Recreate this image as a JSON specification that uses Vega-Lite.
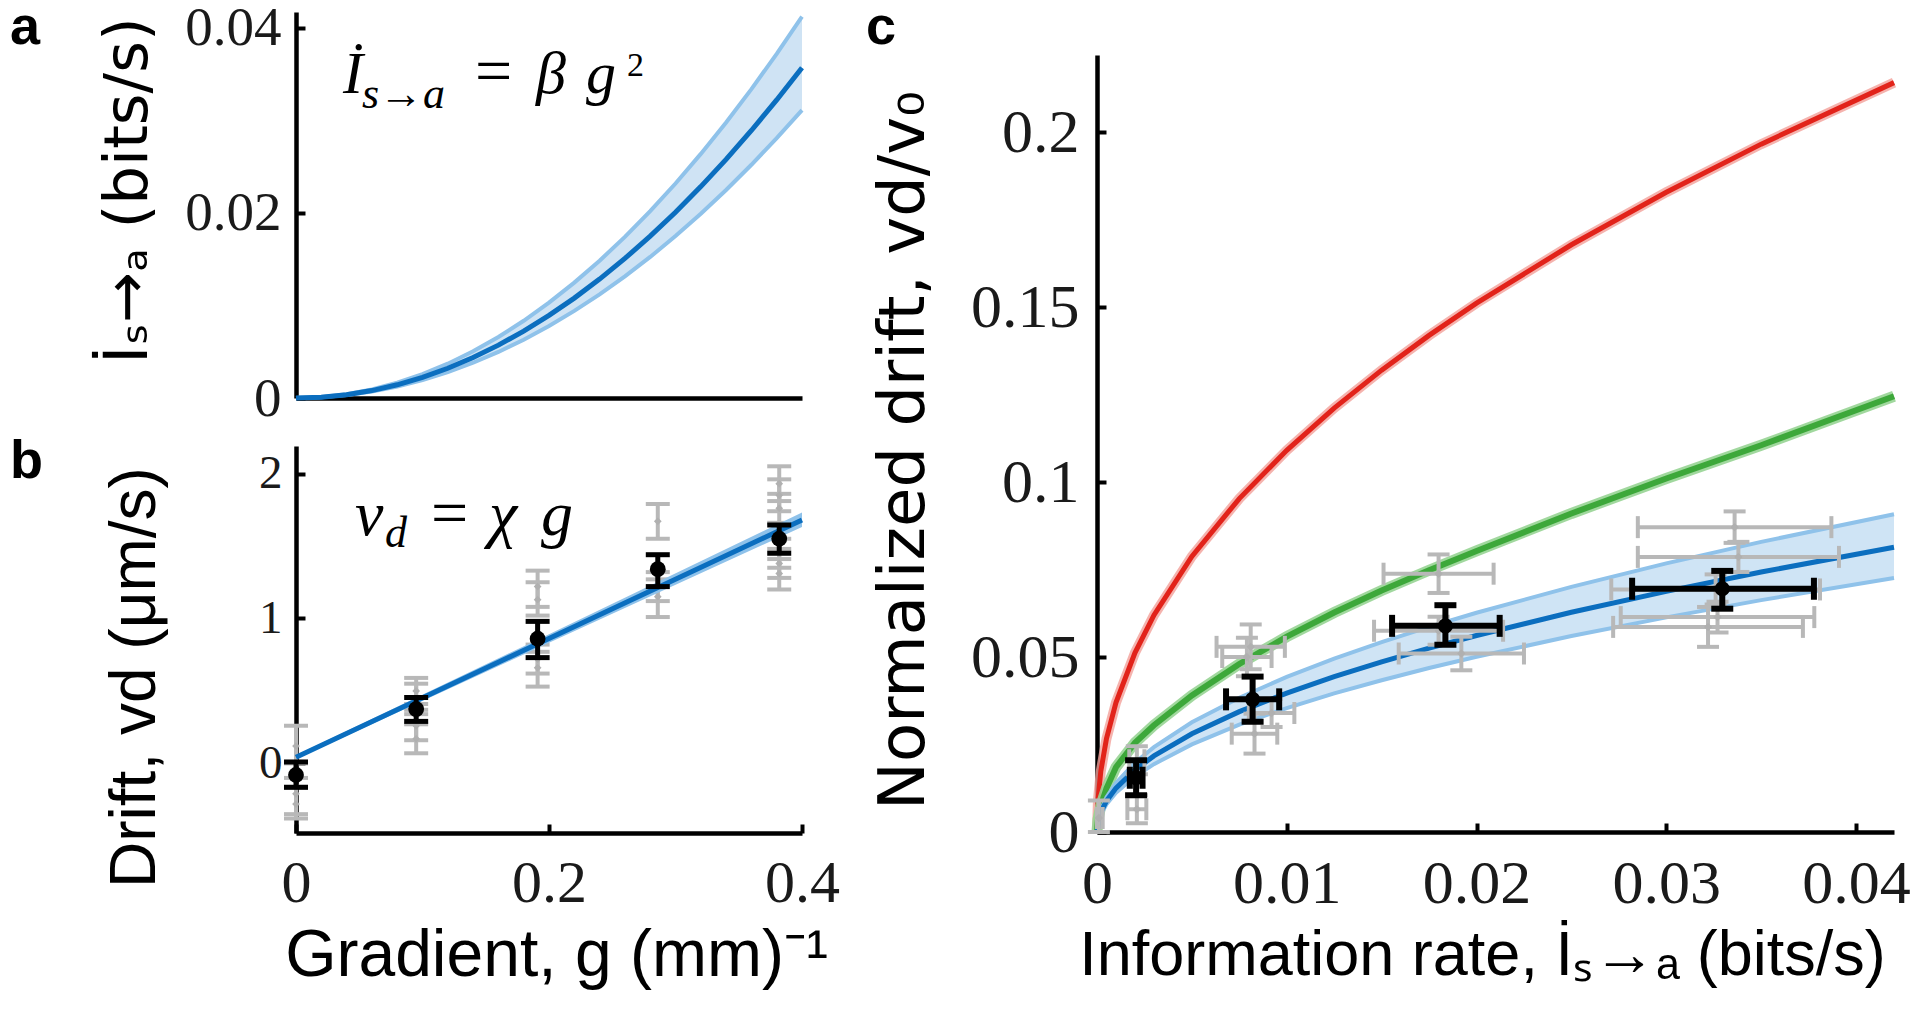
{
  "$schema": "https://vega.github.io/schema/vega-lite/v6.json",
  "background": "white",
  "autosize": {"type": "none"},
  "padding": {"left": 296, "top": 12, "right": 1624, "bottom": 999},
  "bounds": "flush",
  "spacing": 801,
  "config": {
    "view": {"stroke": null},
    "font": "Liberation Sans",
    "axis": {
      "grid": false, "domainColor": "#000", "domainWidth": 4.5, "tickColor": "#000", "tickWidth": 4, "tickSize": -9,
      "labelFont": "Liberation Serif", "labelFontSize": 58, "labelColor": "#1a1a1a", "labelPadding": 25,
      "labelFlush": false, "labelOverlap": false,
      "titleFont": "Liberation Sans", "titleFontWeight": "normal", "titleColor": "#000", "titleFontSize": 60, "titleBaseline": "middle"
    }
  },
  "datasets": {
    "aCurve": [
      {"g": 0, "I": 0, "lo": 0, "hi": 0},
      {"g": 0.02, "I": 0.0000892, "lo": 0.0000778, "hi": 0.000103},
      {"g": 0.04, "I": 0.000357, "lo": 0.000311, "hi": 0.000412},
      {"g": 0.06, "I": 0.000803, "lo": 0.0007, "hi": 0.000927},
      {"g": 0.08, "I": 0.001427, "lo": 0.001244, "hi": 0.001648},
      {"g": 0.1, "I": 0.00223, "lo": 0.001944, "hi": 0.002575},
      {"g": 0.12, "I": 0.003211, "lo": 0.002799, "hi": 0.003708},
      {"g": 0.14, "I": 0.004371, "lo": 0.00381, "hi": 0.005047},
      {"g": 0.16, "I": 0.005709, "lo": 0.004977, "hi": 0.006592},
      {"g": 0.18, "I": 0.007225, "lo": 0.006299, "hi": 0.008343},
      {"g": 0.2, "I": 0.00892, "lo": 0.007776, "hi": 0.0103},
      {"g": 0.22, "I": 0.010793, "lo": 0.009409, "hi": 0.012463},
      {"g": 0.24, "I": 0.012845, "lo": 0.011197, "hi": 0.014832},
      {"g": 0.26, "I": 0.015075, "lo": 0.013141, "hi": 0.017407},
      {"g": 0.28, "I": 0.017483, "lo": 0.015241, "hi": 0.020188},
      {"g": 0.3, "I": 0.02007, "lo": 0.017496, "hi": 0.023175},
      {"g": 0.32, "I": 0.022835, "lo": 0.019907, "hi": 0.026368},
      {"g": 0.34, "I": 0.025779, "lo": 0.022473, "hi": 0.029767},
      {"g": 0.36, "I": 0.028901, "lo": 0.025194, "hi": 0.033372},
      {"g": 0.38, "I": 0.032201, "lo": 0.028071, "hi": 0.037183},
      {"g": 0.4, "I": 0.03568, "lo": 0.031104, "hi": 0.0412}
    ],
    "bFit": [
      {"g": 0, "v": 0.043, "lo": 0.03, "hi": 0.056},
      {"g": 0.2, "v": 0.862, "lo": 0.832, "hi": 0.892},
      {"g": 0.4, "v": 1.68, "lo": 1.632, "hi": 1.732}
    ],
    "bGray": [
      {"g": 0, "v": 0.12, "lo": 0.0, "hi": 0.26},
      {"g": 0, "v": -0.21, "lo": -0.35, "hi": -0.1},
      {"g": 0, "v": -0.28, "lo": -0.38, "hi": -0.16},
      {"g": 0.095, "v": 0.5, "lo": 0.41, "hi": 0.59},
      {"g": 0.095, "v": 0.45, "lo": 0.37, "hi": 0.55},
      {"g": 0.095, "v": 0.17, "lo": 0.07, "hi": 0.27},
      {"g": 0.095, "v": 0.26, "lo": 0.16, "hi": 0.34},
      {"g": 0.191, "v": 1.22, "lo": 1.08, "hi": 1.33},
      {"g": 0.191, "v": 1.13, "lo": 1.02, "hi": 1.25},
      {"g": 0.191, "v": 0.66, "lo": 0.53, "hi": 0.77},
      {"g": 0.191, "v": 0.72, "lo": 0.62, "hi": 0.82},
      {"g": 0.286, "v": 1.67, "lo": 1.55, "hi": 1.79},
      {"g": 0.286, "v": 1.15, "lo": 1.01, "hi": 1.27},
      {"g": 0.286, "v": 1.22, "lo": 1.12, "hi": 1.32},
      {"g": 0.382, "v": 1.93, "lo": 1.81, "hi": 2.05},
      {"g": 0.382, "v": 1.85, "lo": 1.74, "hi": 1.96},
      {"g": 0.382, "v": 1.76, "lo": 1.66, "hi": 1.86},
      {"g": 0.382, "v": 1.45, "lo": 1.35, "hi": 1.55},
      {"g": 0.382, "v": 1.31, "lo": 1.2, "hi": 1.41},
      {"g": 0.382, "v": 1.38, "lo": 1.28, "hi": 1.48}
    ],
    "bBlack": [
      {"g": 0, "v": -0.08, "lo": -0.165, "hi": 0.01},
      {"g": 0.095, "v": 0.375, "lo": 0.29, "hi": 0.455},
      {"g": 0.191, "v": 0.86, "lo": 0.73, "hi": 0.98},
      {"g": 0.286, "v": 1.34, "lo": 1.22, "hi": 1.44},
      {"g": 0.382, "v": 1.55, "lo": 1.45, "hi": 1.645}
    ],
    "cRed": [
      {"I": 0, "v": 0}, {"I": 0.00005, "v": 0.00904}, {"I": 0.0002, "v": 0.01735}, {"I": 0.0005, "v": 0.02668},
      {"I": 0.001, "v": 0.03697}, {"I": 0.002, "v": 0.05121}, {"I": 0.003, "v": 0.06194}, {"I": 0.005, "v": 0.07875},
      {"I": 0.0075, "v": 0.09527}, {"I": 0.01, "v": 0.10906}, {"I": 0.0125, "v": 0.12112}, {"I": 0.015, "v": 0.13196},
      {"I": 0.0175, "v": 0.14189}, {"I": 0.02, "v": 0.15111}, {"I": 0.025, "v": 0.16778}, {"I": 0.03, "v": 0.18279},
      {"I": 0.035, "v": 0.19653}, {"I": 0.042, "v": 0.21411}
    ],
    "cGreen": [
      {"I": 0, "v": 0}, {"I": 0.00005, "v": 0.0035}, {"I": 0.0002, "v": 0.0075}, {"I": 0.0005, "v": 0.0125},
      {"I": 0.001, "v": 0.0185}, {"I": 0.002, "v": 0.0255}, {"I": 0.003, "v": 0.0305}, {"I": 0.005, "v": 0.0390},
      {"I": 0.0075, "v": 0.0480}, {"I": 0.01, "v": 0.0558}, {"I": 0.0125, "v": 0.0627}, {"I": 0.015, "v": 0.0690},
      {"I": 0.0175, "v": 0.0748}, {"I": 0.02, "v": 0.0803}, {"I": 0.025, "v": 0.0910}, {"I": 0.03, "v": 0.1010},
      {"I": 0.035, "v": 0.1105}, {"I": 0.042, "v": 0.1245}
    ],
    "cBlue": [
      {"I": 0, "v": 0, "lo": 0, "hi": 0},
      {"I": 0.0002, "v": 0.00561, "lo": 0.005, "hi": 0.00626},
      {"I": 0.0005, "v": 0.00888, "lo": 0.00792, "hi": 0.00991},
      {"I": 0.001, "v": 0.01255, "lo": 0.0112, "hi": 0.01401},
      {"I": 0.002, "v": 0.01775, "lo": 0.01583, "hi": 0.01981},
      {"I": 0.003, "v": 0.02174, "lo": 0.01939, "hi": 0.02426},
      {"I": 0.005, "v": 0.02807, "lo": 0.02504, "hi": 0.03133},
      {"I": 0.0075, "v": 0.03438, "lo": 0.03067, "hi": 0.03837},
      {"I": 0.01, "v": 0.0397, "lo": 0.03541, "hi": 0.04431},
      {"I": 0.0125, "v": 0.04439, "lo": 0.0396, "hi": 0.04954},
      {"I": 0.015, "v": 0.04862, "lo": 0.04337, "hi": 0.05426},
      {"I": 0.0175, "v": 0.05252, "lo": 0.04685, "hi": 0.05861},
      {"I": 0.02, "v": 0.05614, "lo": 0.05008, "hi": 0.06265},
      {"I": 0.025, "v": 0.06277, "lo": 0.05599, "hi": 0.07005},
      {"I": 0.03, "v": 0.06876, "lo": 0.06133, "hi": 0.07674},
      {"I": 0.035, "v": 0.07427, "lo": 0.06625, "hi": 0.08289},
      {"I": 0.042, "v": 0.08136, "lo": 0.07257, "hi": 0.0908}
    ],
    "cGray": [
      {"I": 0.0021, "v": 0.0065, "xlo": 0.0016, "xhi": 0.0026, "ylo": 0.0025, "yhi": 0.0105},
      {"I": 0.0021, "v": 0.0205, "xlo": 0.0017, "xhi": 0.0025, "ylo": 0.0165, "yhi": 0.0245},
      {"I": 0.0001, "v": 0.004, "xlo": 0.0, "xhi": 0.0003, "ylo": 0.0, "yhi": 0.009},
      {"I": 0.0081, "v": 0.0529, "xlo": 0.0063, "xhi": 0.0099, "ylo": 0.0465, "yhi": 0.0593},
      {"I": 0.0079, "v": 0.05, "xlo": 0.0066, "xhi": 0.0092, "ylo": 0.0445, "yhi": 0.0555},
      {"I": 0.0083, "v": 0.0281, "xlo": 0.0071, "xhi": 0.0095, "ylo": 0.0224, "yhi": 0.0338},
      {"I": 0.0092, "v": 0.034, "xlo": 0.008, "xhi": 0.0104, "ylo": 0.03, "yhi": 0.038},
      {"I": 0.018, "v": 0.0738, "xlo": 0.0151, "xhi": 0.0209, "ylo": 0.0683, "yhi": 0.0793},
      {"I": 0.0192, "v": 0.051, "xlo": 0.0159, "xhi": 0.0225, "ylo": 0.0462, "yhi": 0.0558},
      {"I": 0.018, "v": 0.0575, "xlo": 0.0146, "xhi": 0.0214, "ylo": 0.0535, "yhi": 0.0615},
      {"I": 0.0336, "v": 0.0871, "xlo": 0.0285, "xhi": 0.0387, "ylo": 0.0826, "yhi": 0.0916},
      {"I": 0.0338, "v": 0.0786, "xlo": 0.0285, "xhi": 0.0391, "ylo": 0.0743, "yhi": 0.0829},
      {"I": 0.0326, "v": 0.0693, "xlo": 0.0271, "xhi": 0.0381, "ylo": 0.065, "yhi": 0.0736},
      {"I": 0.0327, "v": 0.0614, "xlo": 0.0276, "xhi": 0.0378, "ylo": 0.057, "yhi": 0.0658},
      {"I": 0.0322, "v": 0.0586, "xlo": 0.0272, "xhi": 0.0372, "ylo": 0.0529, "yhi": 0.0643}
    ],
    "cBlack": [
      {"I": 0.00206, "v": 0.0155, "xlo": 0.00173, "xhi": 0.0024, "ylo": 0.0105, "yhi": 0.0205},
      {"I": 0.0082, "v": 0.0379, "xlo": 0.0068, "xhi": 0.0096, "ylo": 0.0315, "yhi": 0.0444},
      {"I": 0.01836, "v": 0.0589, "xlo": 0.01555, "xhi": 0.02122, "ylo": 0.0535, "yhi": 0.0648},
      {"I": 0.03295, "v": 0.0695, "xlo": 0.0282, "xhi": 0.03778, "ylo": 0.0638, "yhi": 0.0746}
    ]
  },
  "hconcat": [
    {
      "bounds": "flush",
      "spacing": 48,
      "vconcat": [
        {
          "width": 506, "height": 386,
          "layer": [
            {"data": {"name": "aCurve"}, "mark": {"type": "area", "color": "#cfe3f4", "opacity": 1},
             "encoding": {
               "x": {"field": "g", "type": "quantitative", "scale": {"domain": [0, 0.4], "nice": false}, "axis": {"labels": false, "ticks": false, "title": null}},
               "y": {"field": "lo", "type": "quantitative", "scale": {"domain": [0, 0.0417], "nice": false}, "axis": {"values": [0, 0.02, 0.04], "format": ".2~f", "labelFontSize": 55, "labelPadding": 24, "title": "İₛ→ₐ (bits/s)", "titleFont": "DejaVu Sans", "titleX": -168, "titleY": 178, "titleFontSize": 61}},
               "y2": {"field": "hi"}}},
            {"data": {"name": "aCurve"}, "mark": {"type": "line", "color": "#8fc2ea", "strokeWidth": 4},
             "encoding": {"x": {"field": "g", "type": "quantitative"}, "y": {"field": "hi", "type": "quantitative"}}},
            {"data": {"name": "aCurve"}, "mark": {"type": "line", "color": "#8fc2ea", "strokeWidth": 4},
             "encoding": {"x": {"field": "g", "type": "quantitative"}, "y": {"field": "lo", "type": "quantitative"}}},
            {"data": {"name": "aCurve"}, "mark": {"type": "line", "color": "#0b6ebf", "strokeWidth": 5},
             "encoding": {"x": {"field": "g", "type": "quantitative"}, "y": {"field": "I", "type": "quantitative"}}},
            {"data": {"values": [{}]}, "mark": {"type": "text", "font": "Liberation Sans", "fontWeight": "bold", "fontSize": 54, "align": "left", "baseline": "alphabetic", "color": "#000", "dx": -286, "dy": 32},
             "encoding": {"x": {"datum": 0}, "y": {"datum": 0.0417}, "text": {"value": "a"}}},
            {"data": {"values": [{}]}, "mark": {"type": "text", "font": "Liberation Serif", "fontStyle": "italic", "fontSize": 60, "align": "left", "baseline": "alphabetic", "color": "#000"},
             "encoding": {"x": {"datum": 0.03715}, "y": {"datum": 0.03295}, "text": {"value": "İ"}}},
            {"data": {"values": [{}]}, "mark": {"type": "text", "font": "Liberation Serif", "fontStyle": "italic", "fontSize": 44, "align": "left", "baseline": "alphabetic", "color": "#000", "dx": 19, "dy": 15},
             "encoding": {"x": {"datum": 0.03715}, "y": {"datum": 0.03295}, "text": {"value": "s→a"}}},
            {"data": {"values": [{}]}, "mark": {"type": "text", "font": "Liberation Serif", "fontSize": 66, "align": "left", "baseline": "alphabetic", "color": "#000", "dx": 132},
             "encoding": {"x": {"datum": 0.03715}, "y": {"datum": 0.03295}, "text": {"value": "="}}},
            {"data": {"values": [{}]}, "mark": {"type": "text", "font": "Liberation Serif", "fontStyle": "italic", "fontSize": 60, "align": "left", "baseline": "alphabetic", "color": "#000", "dx": 193},
             "encoding": {"x": {"datum": 0.03715}, "y": {"datum": 0.03295}, "text": {"value": "β"}}},
            {"data": {"values": [{}]}, "mark": {"type": "text", "font": "Liberation Serif", "fontStyle": "italic", "fontSize": 60, "align": "left", "baseline": "alphabetic", "color": "#000", "dx": 243},
             "encoding": {"x": {"datum": 0.03715}, "y": {"datum": 0.03295}, "text": {"value": "g"}}},
            {"data": {"values": [{}]}, "mark": {"type": "text", "font": "Liberation Serif", "fontSize": 34, "align": "left", "baseline": "alphabetic", "color": "#000", "dx": 284, "dy": -17},
             "encoding": {"x": {"datum": 0.03715}, "y": {"datum": 0.03295}, "text": {"value": "2"}}}
          ]
        },
        {
          "width": 506, "height": 387,
          "layer": [
            {"data": {"name": "bGray"}, "mark": {"type": "rule", "color": "#b8b8b8", "strokeWidth": 4, "opacity": 1},
             "encoding": {
               "x": {"field": "g", "type": "quantitative", "scale": {"domain": [0, 0.4], "nice": false}, "axis": {"values": [0, 0.2, 0.4], "format": ".1~f", "labelFontSize": 60, "labelPadding": 30, "title": "Gradient, g (mm)⁻¹", "titleX": 260, "titleY": 122, "titleFontSize": 66}},
               "y": {"field": "lo", "type": "quantitative", "scale": {"domain": [-0.48, 2.19], "nice": false}, "axis": {"values": [0, 1, 2], "format": "d", "labelFontSize": 47, "labelPadding": 23, "title": "Drift,  vd  (μm/s)", "titleX": -161, "titleY": 231, "titleFontSize": 64}},
               "y2": {"field": "hi"}}},
            {"data": {"name": "bGray"}, "mark": {"type": "tick", "orient": "horizontal", "color": "#b8b8b8", "size": 24, "thickness": 4, "opacity": 1},
             "encoding": {"x": {"field": "g", "type": "quantitative"}, "y": {"field": "lo", "type": "quantitative"}}},
            {"data": {"name": "bGray"}, "mark": {"type": "tick", "orient": "horizontal", "color": "#b8b8b8", "size": 24, "thickness": 4, "opacity": 1},
             "encoding": {"x": {"field": "g", "type": "quantitative"}, "y": {"field": "hi", "type": "quantitative"}}},
            {"data": {"name": "bGray"}, "mark": {"type": "point", "shape": "diamond", "filled": true, "color": "#b0b0b0", "size": 60, "opacity": 1},
             "encoding": {"x": {"field": "g", "type": "quantitative"}, "y": {"field": "v", "type": "quantitative"}}},
            {"data": {"name": "bFit"}, "mark": {"type": "area", "color": "#8fc2ea", "opacity": 1},
             "encoding": {"x": {"field": "g", "type": "quantitative"}, "y": {"field": "lo", "type": "quantitative"}, "y2": {"field": "hi"}}},
            {"data": {"name": "bFit"}, "mark": {"type": "line", "color": "#0b6ebf", "strokeWidth": 5},
             "encoding": {"x": {"field": "g", "type": "quantitative"}, "y": {"field": "v", "type": "quantitative"}}},
            {"data": {"name": "bBlack"}, "mark": {"type": "rule", "color": "#000", "strokeWidth": 5, "opacity": 1},
             "encoding": {"x": {"field": "g", "type": "quantitative"}, "y": {"field": "lo", "type": "quantitative"}, "y2": {"field": "hi"}}},
            {"data": {"name": "bBlack"}, "mark": {"type": "tick", "orient": "horizontal", "color": "#000", "size": 24, "thickness": 5, "opacity": 1},
             "encoding": {"x": {"field": "g", "type": "quantitative"}, "y": {"field": "lo", "type": "quantitative"}}},
            {"data": {"name": "bBlack"}, "mark": {"type": "tick", "orient": "horizontal", "color": "#000", "size": 24, "thickness": 5, "opacity": 1},
             "encoding": {"x": {"field": "g", "type": "quantitative"}, "y": {"field": "hi", "type": "quantitative"}}},
            {"data": {"name": "bBlack"}, "mark": {"type": "circle", "color": "#000", "size": 250, "opacity": 1},
             "encoding": {"x": {"field": "g", "type": "quantitative"}, "y": {"field": "v", "type": "quantitative"}}},
            {"data": {"values": [{}]}, "mark": {"type": "text", "font": "Liberation Sans", "fontWeight": "bold", "fontSize": 54, "align": "left", "baseline": "alphabetic", "color": "#000", "dx": -286, "dy": 32},
             "encoding": {"x": {"datum": 0}, "y": {"datum": 2.19}, "text": {"value": "b"}}},
            {"data": {"values": [{}]}, "mark": {"type": "text", "font": "Liberation Serif", "fontStyle": "italic", "fontSize": 64, "align": "left", "baseline": "alphabetic", "color": "#000"},
             "encoding": {"x": {"datum": 0.0466}, "y": {"datum": 1.576}, "text": {"value": "v"}}},
            {"data": {"values": [{}]}, "mark": {"type": "text", "font": "Liberation Serif", "fontStyle": "italic", "fontSize": 44, "align": "left", "baseline": "alphabetic", "color": "#000", "dx": 30, "dy": 12},
             "encoding": {"x": {"datum": 0.0466}, "y": {"datum": 1.576}, "text": {"value": "d"}}},
            {"data": {"values": [{}]}, "mark": {"type": "text", "font": "Liberation Serif", "fontSize": 66, "align": "left", "baseline": "alphabetic", "color": "#000", "dx": 76},
             "encoding": {"x": {"datum": 0.0466}, "y": {"datum": 1.576}, "text": {"value": "="}}},
            {"data": {"values": [{}]}, "mark": {"type": "text", "font": "Liberation Serif", "fontStyle": "italic", "fontSize": 64, "align": "left", "baseline": "alphabetic", "color": "#000", "dx": 134},
             "encoding": {"x": {"datum": 0.0466}, "y": {"datum": 1.576}, "text": {"value": "χ"}}},
            {"data": {"values": [{}]}, "mark": {"type": "text", "font": "Liberation Serif", "fontStyle": "italic", "fontSize": 64, "align": "left", "baseline": "alphabetic", "color": "#000", "dx": 186},
             "encoding": {"x": {"datum": 0.0466}, "y": {"datum": 1.576}, "text": {"value": "g"}}}
          ]
        }
      ]
    },
    {
      "bounds": "flush",
      "spacing": 42,
      "vconcat": [
        {"width": 797, "height": 1, "data": {"values": [{}]}, "mark": {"type": "point", "opacity": 0}},
        {
          "width": 797, "height": 777,
          "layer": [
            {"data": {"name": "cRed"}, "mark": {"type": "line", "color": "#f2a09a", "strokeWidth": 10, "opacity": 0.8},
             "encoding": {
               "x": {"field": "I", "type": "quantitative", "scale": {"domain": [0, 0.042], "nice": false}, "axis": {"values": [0, 0.01, 0.02, 0.03, 0.04], "format": ".2~f", "labelFontSize": 62, "labelPadding": 30, "title": "Information rate, İₛ→ₐ (bits/s)", "titleX": 385, "titleY": 123, "titleFontSize": 63}},
               "y": {"field": "v", "type": "quantitative", "scale": {"domain": [0, 0.222], "nice": false}, "axis": {"values": [0, 0.05, 0.1, 0.15, 0.2], "format": ".2~f", "labelFontSize": 62, "labelPadding": 27, "title": "Normalized drift, vd/v₀", "titleX": -193, "titleY": 395, "titleFont": "DejaVu Sans", "titleFontSize": 64}}}},
            {"data": {"name": "cRed"}, "mark": {"type": "line", "color": "#e2231a", "strokeWidth": 5},
             "encoding": {"x": {"field": "I", "type": "quantitative"}, "y": {"field": "v", "type": "quantitative"}}},
            {"data": {"name": "cGreen"}, "mark": {"type": "line", "color": "#97d494", "strokeWidth": 11, "opacity": 0.9},
             "encoding": {"x": {"field": "I", "type": "quantitative"}, "y": {"field": "v", "type": "quantitative"}}},
            {"data": {"name": "cGreen"}, "mark": {"type": "line", "color": "#3da83a", "strokeWidth": 6},
             "encoding": {"x": {"field": "I", "type": "quantitative"}, "y": {"field": "v", "type": "quantitative"}}},
            {"data": {"name": "cBlue"}, "mark": {"type": "area", "color": "#cfe4f5", "opacity": 1},
             "encoding": {"x": {"field": "I", "type": "quantitative"}, "y": {"field": "lo", "type": "quantitative"}, "y2": {"field": "hi"}}},
            {"data": {"name": "cBlue"}, "mark": {"type": "line", "color": "#8fc2ea", "strokeWidth": 4},
             "encoding": {"x": {"field": "I", "type": "quantitative"}, "y": {"field": "hi", "type": "quantitative"}}},
            {"data": {"name": "cBlue"}, "mark": {"type": "line", "color": "#8fc2ea", "strokeWidth": 4},
             "encoding": {"x": {"field": "I", "type": "quantitative"}, "y": {"field": "lo", "type": "quantitative"}}},
            {"data": {"name": "cBlue"}, "mark": {"type": "line", "color": "#0b6ebf", "strokeWidth": 5},
             "encoding": {"x": {"field": "I", "type": "quantitative"}, "y": {"field": "v", "type": "quantitative"}}},
            {"data": {"name": "cGray"}, "mark": {"type": "rule", "color": "#b8b8b8", "strokeWidth": 4, "opacity": 1},
             "encoding": {"x": {"field": "xlo", "type": "quantitative"}, "x2": {"field": "xhi"}, "y": {"field": "v", "type": "quantitative"}}},
            {"data": {"name": "cGray"}, "mark": {"type": "rule", "color": "#b8b8b8", "strokeWidth": 4, "opacity": 1},
             "encoding": {"x": {"field": "I", "type": "quantitative"}, "y": {"field": "ylo", "type": "quantitative"}, "y2": {"field": "yhi"}}},
            {"data": {"name": "cGray"}, "mark": {"type": "tick", "orient": "vertical", "color": "#b8b8b8", "size": 22, "thickness": 4, "opacity": 1},
             "encoding": {"x": {"field": "xlo", "type": "quantitative"}, "y": {"field": "v", "type": "quantitative"}}},
            {"data": {"name": "cGray"}, "mark": {"type": "tick", "orient": "vertical", "color": "#b8b8b8", "size": 22, "thickness": 4, "opacity": 1},
             "encoding": {"x": {"field": "xhi", "type": "quantitative"}, "y": {"field": "v", "type": "quantitative"}}},
            {"data": {"name": "cGray"}, "mark": {"type": "tick", "orient": "horizontal", "color": "#b8b8b8", "size": 22, "thickness": 4, "opacity": 1},
             "encoding": {"x": {"field": "I", "type": "quantitative"}, "y": {"field": "ylo", "type": "quantitative"}}},
            {"data": {"name": "cGray"}, "mark": {"type": "tick", "orient": "horizontal", "color": "#b8b8b8", "size": 22, "thickness": 4, "opacity": 1},
             "encoding": {"x": {"field": "I", "type": "quantitative"}, "y": {"field": "yhi", "type": "quantitative"}}},
            {"data": {"name": "cGray"}, "mark": {"type": "point", "shape": "diamond", "filled": true, "color": "#b0b0b0", "size": 70, "opacity": 1},
             "encoding": {"x": {"field": "I", "type": "quantitative"}, "y": {"field": "v", "type": "quantitative"}}},
            {"data": {"name": "cBlack"}, "mark": {"type": "rule", "color": "#000", "strokeWidth": 6, "opacity": 1},
             "encoding": {"x": {"field": "xlo", "type": "quantitative"}, "x2": {"field": "xhi"}, "y": {"field": "v", "type": "quantitative"}}},
            {"data": {"name": "cBlack"}, "mark": {"type": "rule", "color": "#000", "strokeWidth": 6, "opacity": 1},
             "encoding": {"x": {"field": "I", "type": "quantitative"}, "y": {"field": "ylo", "type": "quantitative"}, "y2": {"field": "yhi"}}},
            {"data": {"name": "cBlack"}, "mark": {"type": "tick", "orient": "vertical", "color": "#000", "size": 22, "thickness": 6, "opacity": 1},
             "encoding": {"x": {"field": "xlo", "type": "quantitative"}, "y": {"field": "v", "type": "quantitative"}}},
            {"data": {"name": "cBlack"}, "mark": {"type": "tick", "orient": "vertical", "color": "#000", "size": 22, "thickness": 6, "opacity": 1},
             "encoding": {"x": {"field": "xhi", "type": "quantitative"}, "y": {"field": "v", "type": "quantitative"}}},
            {"data": {"name": "cBlack"}, "mark": {"type": "tick", "orient": "horizontal", "color": "#000", "size": 22, "thickness": 6, "opacity": 1},
             "encoding": {"x": {"field": "I", "type": "quantitative"}, "y": {"field": "ylo", "type": "quantitative"}}},
            {"data": {"name": "cBlack"}, "mark": {"type": "tick", "orient": "horizontal", "color": "#000", "size": 22, "thickness": 6, "opacity": 1},
             "encoding": {"x": {"field": "I", "type": "quantitative"}, "y": {"field": "yhi", "type": "quantitative"}}},
            {"data": {"name": "cBlack"}, "mark": {"type": "circle", "color": "#000", "size": 230, "opacity": 1},
             "encoding": {"x": {"field": "I", "type": "quantitative"}, "y": {"field": "v", "type": "quantitative"}}},
            {"data": {"values": [{}]}, "mark": {"type": "text", "font": "Liberation Sans", "fontWeight": "bold", "fontSize": 54, "align": "left", "baseline": "alphabetic", "color": "#000", "dx": -231, "dy": -11},
             "encoding": {"x": {"datum": 0}, "y": {"datum": 0.222}, "text": {"value": "c"}}}
          ]
        }
      ]
    }
  ]
}
